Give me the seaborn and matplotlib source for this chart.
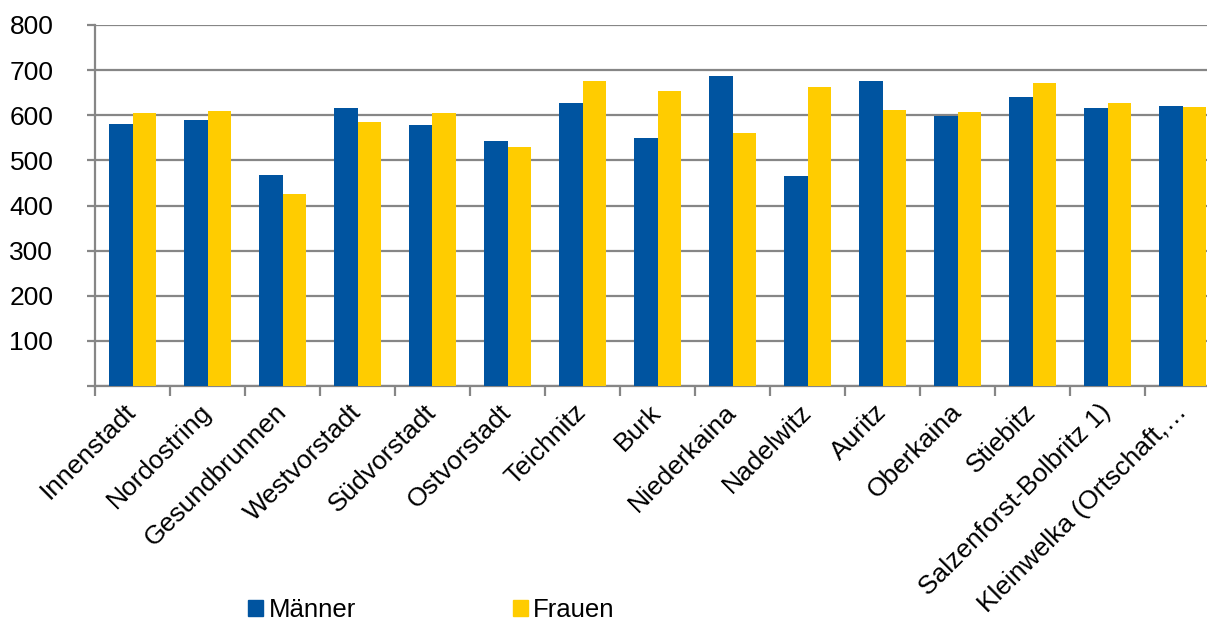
import pandas as pd
import numpy as np
import seaborn as sns
import matplotlib.pyplot as plt
from matplotlib.patches import Patch

# --- Daten ---
stadtteile = ["Innenstadt", "Nordostring", "Gesundbrunnen", "Westvorstadt", "Südvorstadt",
              "Ostvorstadt", "Teichnitz", "Burk", "Niederkaina", "Nadelwitz", "Auritz",
              "Oberkaina", "Stiebitz", "Salzenforst-Bolbritz 1)", "Kleinwelka (Ortschaft,…"]
maenner = [580, 590, 467, 616, 578, 544, 628, 549, 687, 465, 676, 599, 640, 617, 621]
frauen = [605, 610, 425, 584, 604, 530, 677, 653, 561, 663, 612, 607, 671, 628, 619]
y_ticks = [0, 100, 200, 300, 400, 500, 600, 700, 800]

df = pd.DataFrame({"Stadtteil": stadtteile * 2,
                   "Wert": maenner + frauen,
                   "Geschlecht": ["Männer"] * len(maenner) + ["Frauen"] * len(frauen)})

farben = {"Männer": "#0054A0", "Frauen": "#FFCC00"}
grau = "#868686"

sns.set_style("white")
plt.rcParams['font.family'] = ['Liberation Sans', 'DejaVu Sans']
plt.rcParams['text.color'] = 'black'
plt.rcParams['xtick.color'] = 'black'
plt.rcParams['ytick.color'] = 'black'

fig = plt.figure(figsize=(12.07, 6.21), dpi=100)
W, H = 1207, 621
# Diagramm ist rechts abgeschnitten (wie im Original)
ax = fig.add_axes([95 / W, 1 - 386 / H, (1220 - 95) / W, (386 - 25) / H])

sns.barplot(data=df, x="Stadtteil", y="Wert", hue="Geschlecht", palette=farben,
            width=0.63, linewidth=0, saturation=1, ax=ax, legend=False, zorder=3)

ax.set_ylim(0, 800)
ax.set_xlim(-0.5, len(stadtteile) - 0.5)
ax.set_yticks(y_ticks)
ax.set_yticklabels([""] + [str(t) for t in y_ticks[1:]], fontsize=19)
ax.yaxis.grid(True, color=grau, linewidth=1.6, zorder=0)
ax.set_axisbelow(True)
ax.set_xlabel("")
ax.set_ylabel("")

# Kategorie-Beschriftungen und Trennstriche
ax.set_xticks(range(len(stadtteile)))
ax.set_xticklabels(stadtteile, rotation=45, ha="right", va="center",
                   rotation_mode="anchor", fontsize=19)
ax.set_xticks(np.arange(-0.5, len(stadtteile), 1), minor=True)
ax.tick_params(axis="x", which="major", length=0, pad=16)
ax.tick_params(axis="x", which="minor", length=7, width=1.6, color=grau, direction="out")
ax.tick_params(axis="y", length=6, width=1.6, color=grau, direction="out", pad=24)
ax.tick_params(axis="both", which="both", bottom=True, left=True)

for s in ["top", "right"]:
    ax.spines[s].set_visible(False)
for s in ["left", "bottom"]:
    ax.spines[s].set_color(grau)
    ax.spines[s].set_linewidth(1.6)

handles = [Patch(color=farben["Männer"], label="Männer"),
           Patch(color=farben["Frauen"], label="Frauen")]
fig.legend(handles=handles, loc="center left", bbox_to_anchor=(248 / W, 1 - 610 / H),
           ncol=2, frameon=False, fontsize=18.5, handlelength=0.6, handleheight=0.6,
           handletextpad=0.2, columnspacing=6.1, borderpad=0, borderaxespad=0)

fig.savefig("out.png", dpi=100)
